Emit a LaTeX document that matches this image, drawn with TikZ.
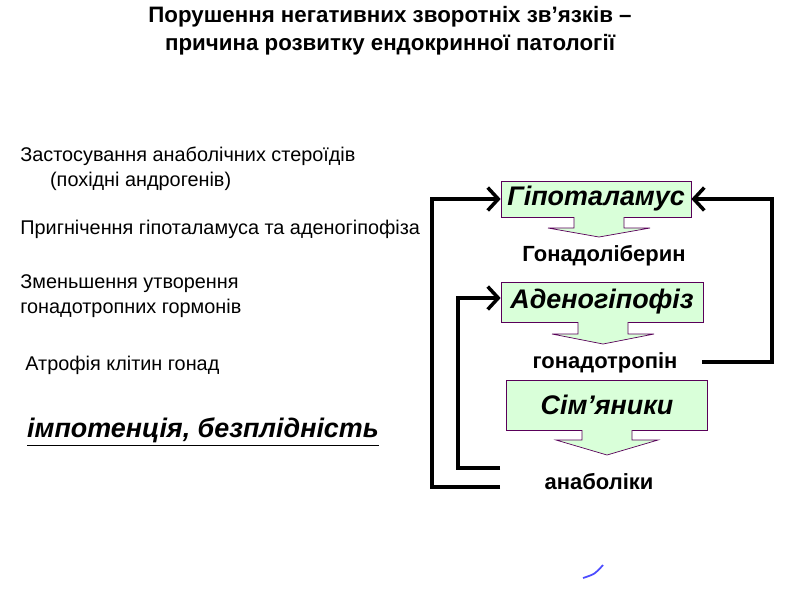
\documentclass[tikz,border=0pt]{standalone}
\usepackage{fontspec}
\setmainfont{Liberation Sans}
\usetikzlibrary{arrows.meta,shapes.arrows}
\begin{document}
\begin{tikzpicture}[x=0.02cm,y=-0.02cm,
    organ/.style={draw=violet!70!black,fill=green!15,font=\fontsize{15.3}{17}\selectfont\bfseries\itshape,inner sep=0pt},
    hormone/.style={font=\fontsize{12.5}{14}\selectfont\bfseries},
    steptext/.style={font=\fontsize{11.3}{14.5}\selectfont,anchor=west,align=left,inner sep=0pt},
    feedback/.style={line width=2.2pt,-{Straight Barb[length=6pt,width=13pt,line width=2pt]}}]
    \useasboundingbox (0,0) rectangle (800,600);
    \node[font=\fontsize{12.7}{16}\selectfont\bfseries,align=center] (title) at (390,31)
        {Порушення негативних зворотніх зв’язків --\\причина розвитку ендокринної патології};

% left column
    \node[steptext] (t1) at (20,169) {Застосування анаболічних стероїдів\\\hspace{1.5em}(похідні андрогенів)};
    \node[steptext] (t2) at (20,229) {Пригнічення гіпоталамуса та аденогіпофіза};
    \node[steptext] (t3) at (20,296) {Зменьшення утворення\\гонадотропних гормонів};
    \node[steptext] (t4) at (25,365) {Атрофія клітин гонад};
    \node[font=\fontsize{15.3}{17}\selectfont\bfseries\itshape] (res) at (203,432) {\underline{імпотенція, безплідність}};

% organs
    \node[organ,minimum width=190*0.02cm,minimum height=36*0.02cm] (hyp) at (596,199) {Гіпоталамус};
    \node[organ,minimum width=202*0.02cm,minimum height=40*0.02cm] (aden) at (602,302) {Аденогіпофіз};
    \node[organ,minimum width=201*0.02cm,minimum height=50*0.02cm] (test) at (607,405) {Сім’яники};

    \node[hormone] (gnrh) at (604,256) {Гонадоліберин};
    \node[hormone] (gtr) at (605,363) {гонадотропін};
    \node[hormone] (anab) at (599,482) {анаболіки};

% block arrows
    \foreach \x/\ya/\yb/\yc in {599/217/228/237, 603/322/334/344, 607/430/440/455}
        \draw[draw=violet!70!black,fill=green!15] (\x-25,\ya) -- (\x-25,\yb) -- (\x-51,\yb) -- (\x,\yc)
            -- (\x+51,\yb) -- (\x+25,\yb) -- (\x+25,\ya);

% feedback loops
    \coordinate (outer) at (500,487);
    \coordinate (inner) at (500,468);
    \coordinate (back) at (702,362);
    \draw[feedback] (outer) -- (432,487) -- (432,199) -- (hyp.west);
    \draw[feedback] (inner) -- (458,468) -- (458,298) -- (aden.west |- 0,298);
    \draw[feedback] (back) -- (772,362) -- (772,199) -- (hyp.east);

    \draw[blue!70,line width=1pt] (583,578) .. controls (595,574) .. (603,565);
\end{tikzpicture}
\end{document}
